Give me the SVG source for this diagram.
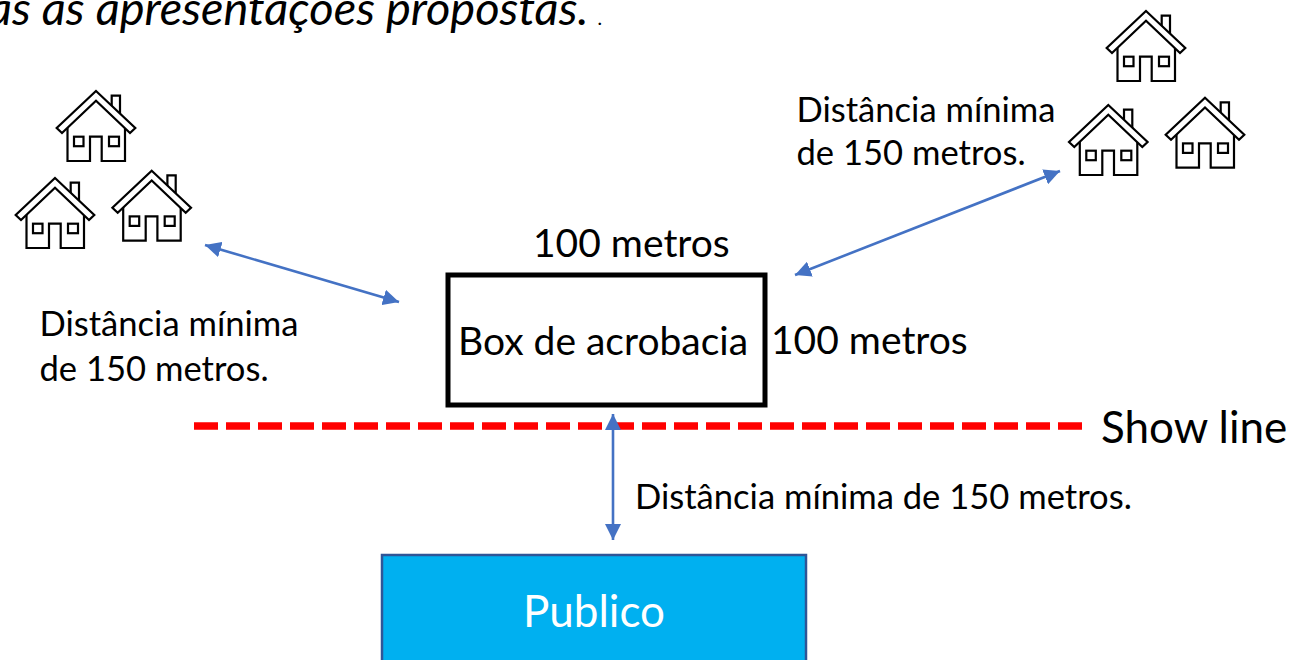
<svg xmlns="http://www.w3.org/2000/svg" width="1291" height="660" viewBox="0 0 1291 660">
<style>
text{font-family:"Lato","Liberation Sans",sans-serif;fill:#000}
.s{font-size:34.6px}.m{font-size:39px}
.a{stroke:#4472C4;stroke-width:2.6;fill:none;marker-start:url(#ah);marker-end:url(#ah)}
.h{fill:#fff;stroke:#000;stroke-width:2.2;stroke-linejoin:miter}
</style>
<defs>
<marker id="ah" viewBox="0 0 16 16" refX="16" refY="8" markerWidth="16" markerHeight="16" markerUnits="userSpaceOnUse" orient="auto-start-reverse"><path d="M0,0L16,8L0,16Z" fill="#4472C4"/></marker>
<g id="house" class="h">
<path d="M15.7,20V4.7H24V28"/>
<path d="M-28.5,34V70H-6V45.7H5.7V70H29V34"/>
<path d="M0,0L39.3,37L34,42L0,9.7L-34,42L-39.3,37Z"/>
<rect x="-22" y="45.7" width="9.5" height="9.5"/>
<rect x="13" y="45.7" width="10" height="9.5"/>
</g>
</defs>
<g id="title"><text x="-12" y="25" font-size="47" font-style="italic">as as apresentações propostas.</text><text x="598" y="25" font-size="20" font-style="italic">.</text></g>
<g id="houses-left"><use href="#house" x="96" y="91"/><use href="#house" x="55" y="178"/><use href="#house" x="151.7" y="170.7"/></g>
<g id="houses-right"><use href="#house" x="1146" y="11"/><use href="#house" x="1108.3" y="105"/><use href="#house" x="1205" y="97.7"/></g>
<g id="connectors">
<path d="M194,426H1083" stroke="#f00" stroke-width="7.5" stroke-dasharray="24 8" fill="none"/>
</g>
<g id="box"><rect x="448" y="275" width="317" height="130" fill="#fff" stroke="#000" stroke-width="5"/><text class="m" x="458" y="355">Box de acrobacia</text></g>
<g id="public"><rect x="382" y="555" width="424" height="110" fill="#00B0F0" stroke="#2F5597" stroke-width="2.5"/><text x="594" y="627" font-size="44" text-anchor="middle" style="fill:#fff">Publico</text></g>
<g id="arrows">
<path class="a" d="M205,245L399,302"/>
<path class="a" d="M1060,171L795,275"/>
<path class="a" d="M613,414V540"/>
</g>
<g id="labels">
<text class="m" x="533" y="257">100 metros</text>
<text class="m" x="771" y="354">100 metros</text>
<text class="s" x="796.5" y="122">Distância mínima</text>
<text class="s" x="796.5" y="165">de 150 metros.</text>
<text class="s" x="39.5" y="336">Distância mínima</text>
<text class="s" x="39.5" y="381">de 150 metros.</text>
<text class="s" x="635" y="509">Distância mínima de 150 metros.</text>
<text x="1101" y="443" font-size="44">Show line</text>
</g>
</svg>
